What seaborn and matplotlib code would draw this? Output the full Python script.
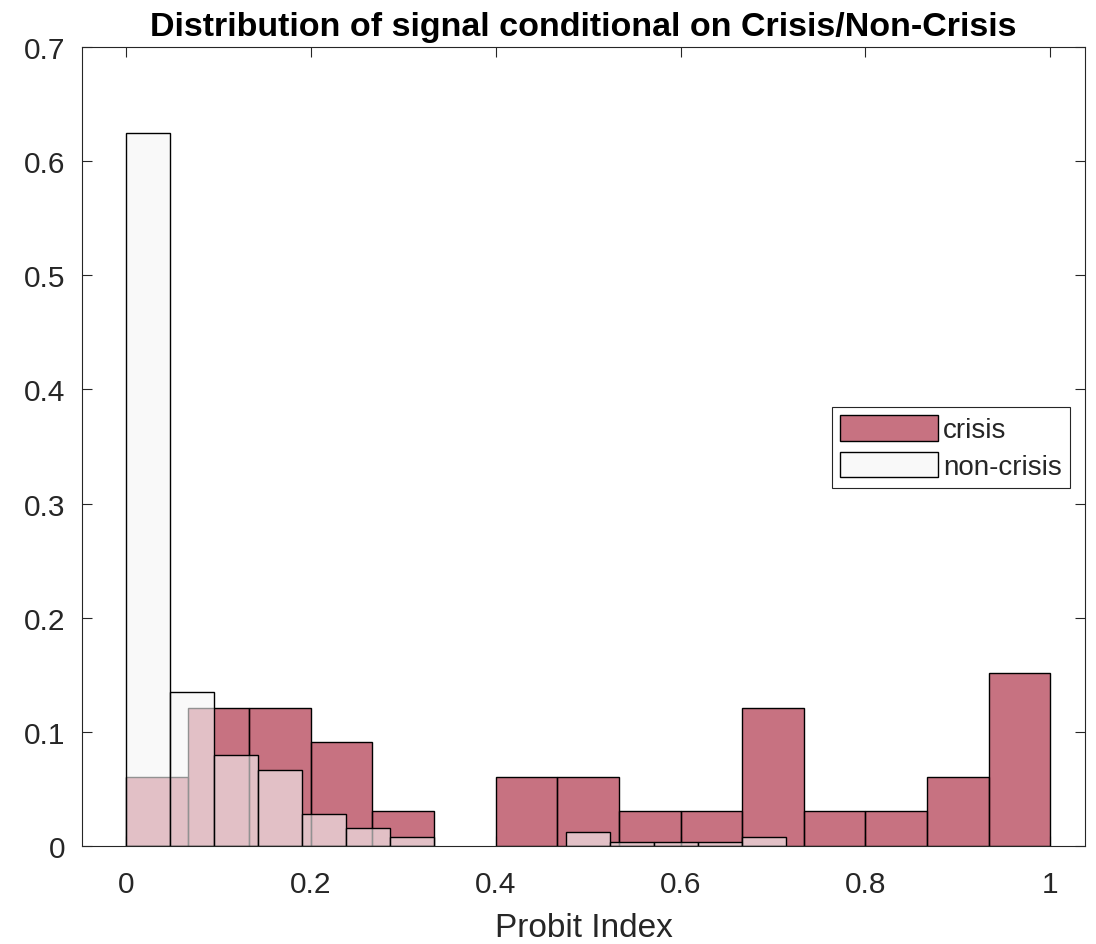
import numpy as np
import pandas as pd
import matplotlib
matplotlib.use("Agg")
import matplotlib.pyplot as plt
import seaborn as sns

# ---- data (probabilities per bin) ----
crisis_bin_width = 1 / 15
crisis_probs = [0.0606, 0.1212, 0.1212, 0.0909, 0.0303, 0.0, 0.0606, 0.0606,
                0.0303, 0.0303, 0.1212, 0.0303, 0.0303, 0.0606, 0.1515]
noncrisis_bin_width = 1 / 21
noncrisis_probs = [0.625, 0.1345, 0.0797, 0.0664, 0.0282, 0.0160, 0.0079, 0.0,
                   0.0, 0.0, 0.0120, 0.0035, 0.0035, 0.0035, 0.0079]
series_labels = ["crisis", "non-crisis"]
x_ticks = [0, 0.2, 0.4, 0.6, 0.8, 1]
x_ticklabels = ["0", "0.2", "0.4", "0.6", "0.8", "1"]
y_ticks = [0, 0.1, 0.2, 0.3, 0.4, 0.5, 0.6, 0.7]
y_ticklabels = ["0", "0.1", "0.2", "0.3", "0.4", "0.5", "0.6", "0.7"]
title = "Distribution of signal conditional on Crisis/Non-Crisis"
xlabel = "Probit Index"

sns.set_style("white")
plt.rcParams["font.family"] = ["Liberation Sans", "DejaVu Sans"]

crisis_edges = [i * crisis_bin_width for i in range(len(crisis_probs) + 1)]
nc_edges = [i * noncrisis_bin_width for i in range(len(noncrisis_probs) + 1)]
df_crisis = pd.DataFrame({"x": [(a + b) / 2 for a, b in zip(crisis_edges[:-1], crisis_edges[1:])],
                          "w": crisis_probs})
df_nc = pd.DataFrame({"x": [(a + b) / 2 for a, b in zip(nc_edges[:-1], nc_edges[1:])],
                      "w": noncrisis_probs})

fig = plt.figure(figsize=(10.96, 9.45), dpi=100)
ax = fig.add_axes([0.0748, 0.1037, 0.9155, 0.8455])

crisis_rgb = (0.64, 0.08, 0.18)
nc_rgb = (0.96, 0.96, 0.96)
axis_col = (0.15, 0.15, 0.15)

sns.histplot(data=df_crisis, x="x", weights="w", bins=crisis_edges,
             stat="count", ax=ax, label=series_labels[0], color=crisis_rgb)
n1 = len(ax.patches)
sns.histplot(data=df_nc, x="x", weights="w", bins=nc_edges,
             stat="count", ax=ax, label=series_labels[1], color=nc_rgb)

for i, p in enumerate(ax.patches):
    rgb = crisis_rgb if i < n1 else nc_rgb
    p.set_alpha(None)
    p.set_facecolor((*rgb, 0.6))
    p.set_edgecolor("black")
    p.set_linewidth(1.0 if p.get_height() > 0 else 0)

ax.set_xlim(-1 / 21, 1.038)
ax.set_ylim(0, 0.7)
ax.set_xticks(x_ticks)
ax.set_xticklabels(x_ticklabels)
ax.set_yticks(y_ticks)
ax.set_yticklabels(y_ticklabels)
ax.tick_params(direction="in", length=7, width=0.8, color=axis_col,
               labelcolor=axis_col, labelsize=21.5, top=True, right=True,
               bottom=True, left=True)
ax.tick_params(axis="y", pad=12)
ax.tick_params(axis="x", pad=17)
for s in ax.spines.values():
    s.set_color(axis_col)
    s.set_linewidth(0.8)
    s.set_visible(True)

ax.set_xlabel(xlabel, fontsize=24, color=axis_col, labelpad=10)
ax.set_ylabel("")
ax.set_title(title, fontsize=24.5, fontweight="bold", color="black", pad=9)

leg = ax.legend(loc="upper right", bbox_to_anchor=(0.985, 0.55), fontsize=20,
                frameon=True, fancybox=False, framealpha=1, edgecolor=axis_col,
                handlelength=3.5, handleheight=1.05, handletextpad=0.2,
                borderpad=0.3, labelspacing=0.3, borderaxespad=0)
leg.get_frame().set_linewidth(0.8)

fig.savefig("out.png", dpi=100)
